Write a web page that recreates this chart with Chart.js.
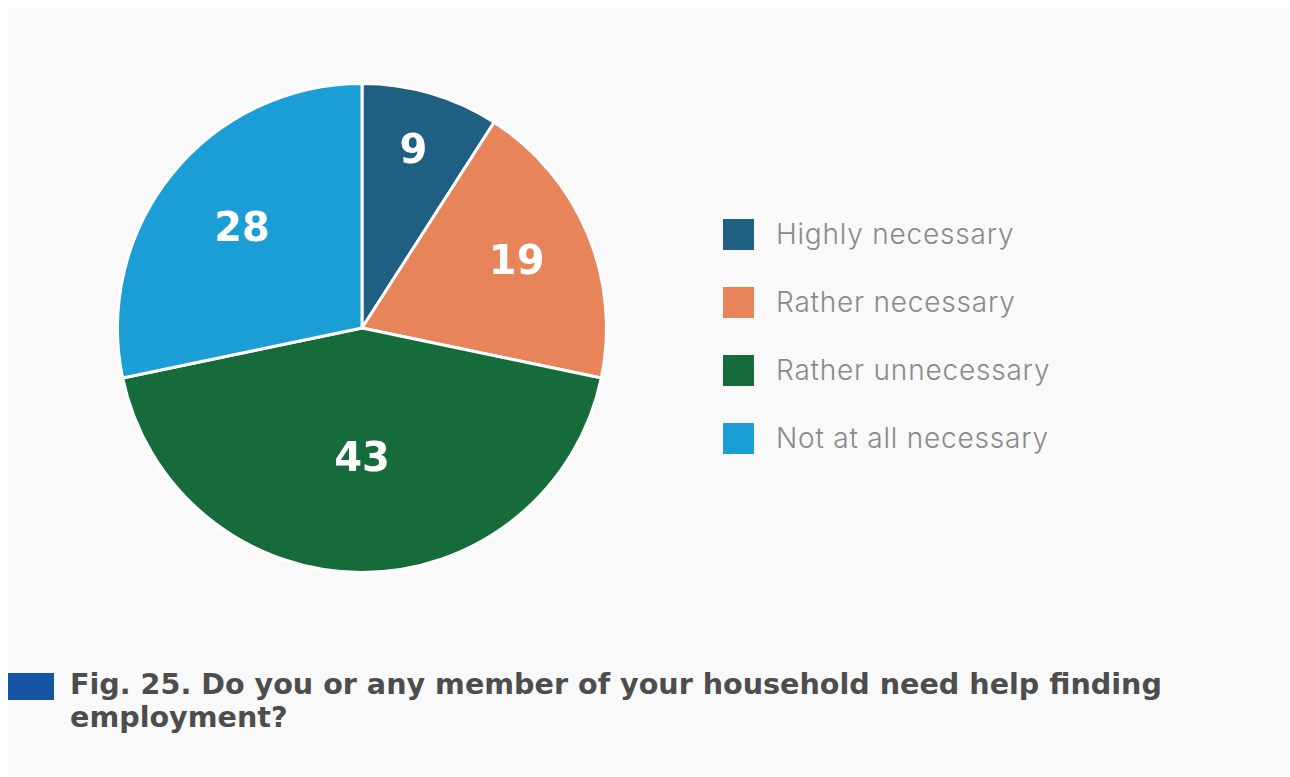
<!DOCTYPE html>
<html>
<head>
<meta charset="utf-8">
<script src="https://cdn.jsdelivr.net/npm/chart.js@4.4.1/dist/chart.umd.min.js"></script>
<style>
  html, body { margin: 0; padding: 0; background: #ffffff; }
  body { width: 1290px; height: 777px; position: relative; overflow: hidden; }
  #panel { position: absolute; left: 8px; top: 8px; width: 1282px; height: 768px; background: #f9f9f9; }
  #pie_wrap { position: absolute; left: 112px; top: 78px; width: 500px; height: 500px; }
  #legend { position: absolute; left: 723px; top: 200px; font-family: "Inter", "Open Sans", sans-serif; font-weight: 300; font-size: 28px; letter-spacing: 0.8px; color: #8a8a8a; }
  .row { height: 68px; display: flex; align-items: center; }
  .box { width: 31px; height: 31px; margin-right: 22px; }
  #title_box { position: absolute; left: 8px; top: 673px; width: 46px; height: 27px; background: #1655a5; }
  #title { position: absolute; left: 70px; top: 668px; width: 1200px; font-family: "DejaVu Sans", sans-serif; font-weight: 700; font-size: 28.6px; line-height: 33px; color: #4d4d4d; white-space: nowrap; }
</style>
</head>
<body>
<div id="panel"></div>
<div id="pie_wrap"><canvas id="employment_pie" width="500" height="500"></canvas></div>
<div id="legend"></div>
<div id="title_box"></div>
<div id="title">Fig. 25. Do you or any member of your household need help finding<br>employment?</div>
<script>
// data (percent)
const answer_labels = ['Highly necessary', 'Rather necessary', 'Rather unnecessary', 'Not at all necessary'];
const answer_values = [9, 19, 43, 28];
const answer_colors = ['#1f5f82', '#e8845a', '#156b3a', '#1b9dd6'];

// white numbers inside each slice
const slice_labels = {
  id: 'slice_labels',
  afterDatasetsDraw(chart) {
    const ctx = chart.ctx;
    const meta = chart.getDatasetMeta(0);
    ctx.save();
    ctx.fillStyle = '#ffffff';
    ctx.font = 'bold 40px "DejaVu Sans", sans-serif';
    ctx.textAlign = 'center';
    ctx.textBaseline = 'middle';
    meta.data.forEach((arc, i) => {
      const mid = (arc.startAngle + arc.endAngle) / 2;
      // smaller slices get their number pushed further out
      const r = arc.outerRadius * (0.8 - 0.006 * answer_values[i]);
      ctx.fillText(String(answer_values[i]), arc.x + Math.cos(mid) * r, arc.y + Math.sin(mid) * r);
    });
    ctx.restore();
  }
};

const employment_pie = new Chart(document.getElementById('employment_pie'), {
  type: 'pie',
  data: {
    labels: answer_labels,
    datasets: [{
      data: answer_values,
      backgroundColor: answer_colors,
      borderColor: '#ffffff',
      borderWidth: 3
    }]
  },
  options: {
    responsive: false,
    animation: false,
    layout: { padding: 4 },
    plugins: {
      legend: { display: false },
      tooltip: { enabled: false }
    }
  },
  plugins: [slice_labels]
});

// html legend built from the same arrays
const legend = document.getElementById('legend');
answer_labels.forEach((label, i) => {
  const row = document.createElement('div');
  row.className = 'row';
  const box = document.createElement('div');
  box.className = 'box';
  box.style.background = answer_colors[i];
  const text = document.createElement('span');
  text.textContent = label;
  row.appendChild(box);
  row.appendChild(text);
  legend.appendChild(row);
});
</script>
</body>
</html>
